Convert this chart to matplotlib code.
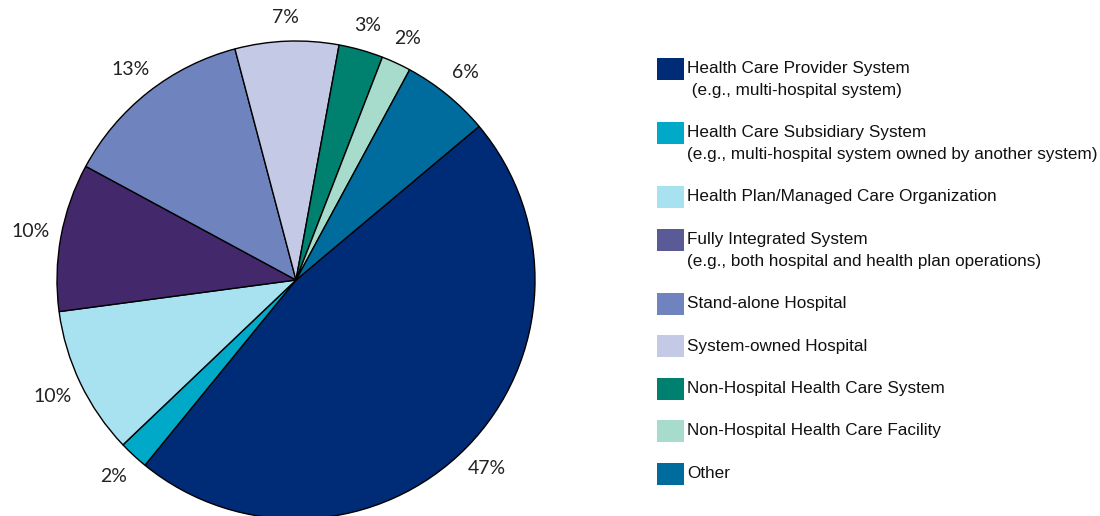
import numpy as np
import matplotlib
matplotlib.use('Agg')
import matplotlib.pyplot as plt
from matplotlib.patches import Rectangle

# Organization types, shares (%) and colours.
labels = [
    'Health Care Provider System\n (e.g., multi-hospital system)',
    'Health Care Subsidiary System\n(e.g., multi-hospital system owned by another system)',
    'Health Plan/Managed Care Organization',
    'Fully Integrated System\n(e.g., both hospital and health plan operations)',
    'Stand-alone Hospital',
    'System-owned Hospital',
    'Non-Hospital Health Care System',
    'Non-Hospital Health Care Facility',
    'Other',
]
shares = [47, 2, 10, 10, 13, 7, 3, 2, 6]
pie_colors = ['#002c77', '#00a9c8', '#a8e1ef', '#43296c', '#6f84bf',
              '#c4c9e6', '#00806f', '#a7dbcb', '#006c9e']
legend_colors = ['#002c77', '#00a9c8', '#a8e1ef', '#5a5a96', '#6f84bf',
                 '#c4c9e6', '#00806f', '#a7dbcb', '#006c9e']

W, H = 1100, 516
fig = plt.figure(figsize=(W / 100, H / 100), dpi=100)

# Pie axes: centre (296, 280) px from top-left, radius 239 px.
cx, cy, r = 296, 280, 239
ax = fig.add_axes([(cx - r) / W, (H - cy - r) / H, 2 * r / W, 2 * r / H])
wedges, _, pcts = ax.pie(shares, colors=pie_colors, startangle=40, counterclock=False,
                         autopct='%1.0f%%', pctdistance=1.12, radius=1,
                         wedgeprops=dict(edgecolor='black', linewidth=1.0))
for w, t in zip(wedges, pcts):
    w.set_clip_on(False)
    # push side labels a little further out than top/bottom ones
    ang = np.deg2rad((w.theta1 + w.theta2) / 2)
    d = 1.10 + 0.03 * abs(np.cos(ang))
    t.set_position((d * np.cos(ang), d * np.sin(ang)))
    t.set_fontsize(14)
    t.set_color('#222222')
    t.set_family('Lato')
ax.set_xlim(-1, 1)
ax.set_ylim(-1, 1)
ax.axis('off')

# Legend drawn in pixel coordinates on an overlay axes.
lax = fig.add_axes([0, 0, 1, 1])
lax.set_xlim(0, W)
lax.set_ylim(H, 0)
lax.axis('off')
y = 69
for lab, col in zip(labels, legend_colors):
    lax.add_patch(Rectangle((657, y - 11), 27, 22, facecolor=col, edgecolor='none'))
    lines = lab.split('\n')
    for i, line in enumerate(lines):
        lax.text(687, y + i * 22, line, fontsize=12.3, family='Liberation Sans',
                 color='#111111', va='center', ha='left')
    y += 42.5 if len(lines) == 1 else 64

fig.savefig('out.png', dpi=100)
